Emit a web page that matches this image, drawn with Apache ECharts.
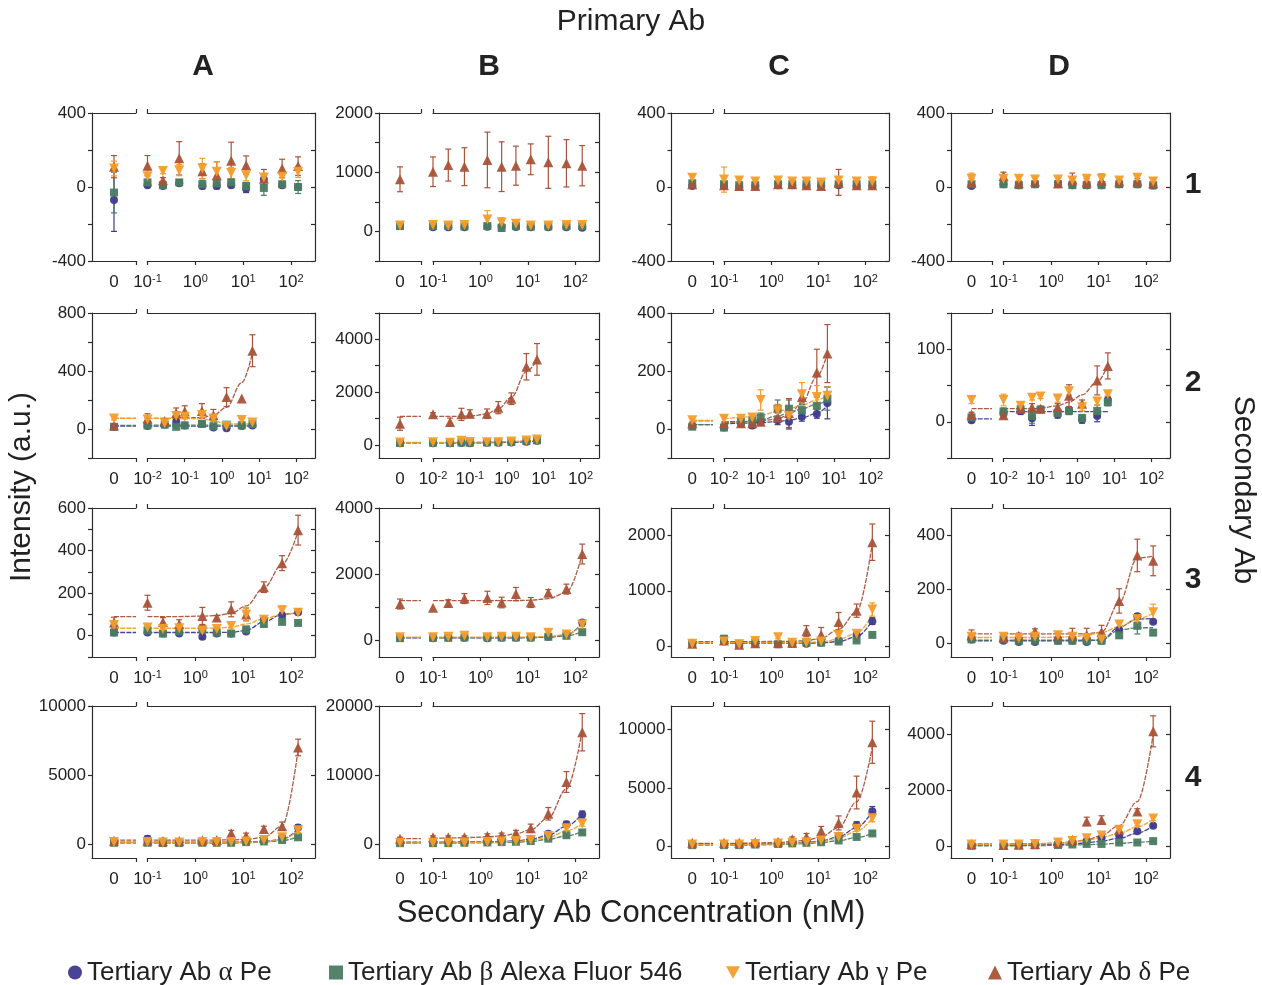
<!DOCTYPE html>
<html><head><meta charset="utf-8">
<script src="https://cdn.jsdelivr.net/npm/echarts@6/dist/echarts.min.js"></script>
<style>html,body{margin:0;padding:0;background:#fff}#c{width:1262px;height:985px}</style>
</head><body><div id="c"></div>
<script>
// ---------------- DATA ----------------
const seriesNames = ['Tertiary Ab α Pe', 'Tertiary Ab β Alexa Fluor 546', 'Tertiary Ab γ Pe', 'Tertiary Ab δ Pe'];
const colTitles = ['A', 'B', 'C', 'D'];
const rowTitles = ['1', '2', '3', '4'];
// secondary Ab concentrations (nM); first entry is the "0" point
const concHigh = [0, 0.1, 0.21, 0.46, 1.4, 2.8, 5.6, 11.5, 27, 65, 140];   // rows 1, 3, 4
const concLow  = [0, 0.01, 0.029, 0.059, 0.1, 0.29, 0.59, 1.33, 3.4, 6.6];  // row 2

// ---- Row 1 ----
const A1_val = [[-70,10,5,20,5,5,10,-10,40,10,0],[-30,25,10,25,15,20,25,5,-5,15,0],[100,58,87,91,100,82,76,64,51,55,82],[110,115,36,155,85,64,142,118,45,100,113]];
const A1_err = [[170,10,10,10,15,15,10,20,15,10,15],[110,15,10,15,20,20,20,20,40,15,35],[40,35,15,30,55,55,30,30,20,30,30],[60,55,15,90,40,72,100,50,50,50,50]];
const A1_fit = [null,null,null,null];
const B1_val = [[90,70,70,70,80,80,75,70,70,70,60],[90,90,90,85,90,60,90,80,85,90,90],[100,110,100,110,200,150,130,100,100,110,110],[880,1008,1120,1093,1207,1093,1110,1218,1167,1150,1110]];
const B1_err = [[20,20,20,20,30,30,20,20,20,20,20],[20,20,20,20,40,60,20,20,20,20,20],[20,20,20,20,150,80,40,20,20,20,20],[210,250,270,320,470,420,330,260,440,400,340]];
const B1_fit = [null,null,null,null];
const C1_val = [[5,5,0,5,10,10,5,5,10,5,5],[20,15,10,10,15,15,15,15,15,15,15],[50,40,35,30,35,30,30,25,35,30,30],[15,10,5,5,15,15,10,5,25,10,10]];
const C1_err = [[8,8,8,8,8,8,8,8,8,8,8],[10,10,10,10,10,10,10,10,10,10,10],[15,68,15,10,10,10,10,10,20,15,25],[10,10,10,10,10,10,10,10,70,10,15]];
const C1_fit = [null,null,null,null];
const D1_val = [[5,15,10,15,15,10,10,10,15,15,10],[15,15,10,15,15,10,10,10,15,15,10],[45,45,45,40,40,35,45,45,35,50,30],[25,60,20,30,20,40,25,35,30,30,20]];
const D1_err = [[10,10,10,10,10,10,10,10,10,10,10],[10,10,10,10,10,10,10,10,10,10,10],[30,15,10,15,10,15,10,15,10,15,15],[20,20,15,25,15,35,20,35,10,15,30]];
const D1_fit = [null,null,null,null];

// ---- Row 2 ----
const A2_val = [[15,20,30,50,25,35,10,5,20,25],[15,25,30,15,25,35,20,30,25,35],[73,66,39,90,85,96,73,20,62,45],[25,70,55,110,120,125,95,220,210,540]];
const A2_err = [[10,10,10,15,10,10,10,10,10,10],[10,10,10,10,10,10,10,10,10,10],[10,10,10,15,15,15,15,10,10,10],[10,35,15,35,40,50,40,65,0,110]];
const A2_fit = [[20,20,20,20,20,20,20,20,20,20],[25,27,27,27,27,27,27,27,27,27],[73,73,73,73,72,70,55,35,35,35],[73,73,73,74,75,80,95,150,320,525]];
const B2_val = [[60,60,60,70,60,80,80,90,120,150],[70,80,70,90,80,90,100,110,140,170],[90,100,80,150,110,100,100,130,160,200],[800,1155,863,1155,1180,1180,1410,1750,2960,3240]];
const B2_err = [[30,30,30,30,30,30,30,30,30,30],[30,30,30,30,30,30,30,30,30,30],[40,30,30,60,40,30,30,40,40,50],[250,60,150,230,150,180,230,220,500,600]];
const B2_fit = [[70,70,70,72,74,80,85,95,115,140],[80,80,80,82,84,90,95,105,130,160],[95,95,95,97,100,105,110,125,155,190],[1080,1080,1080,1082,1090,1170,1370,1800,2780,3220]];
const C2_val = [[10,5,18,12,25,30,25,42,52,90],[8,5,25,30,40,70,70,65,80,105],[30,35,35,40,100,65,45,120,110,115],[20,20,20,20,25,40,55,110,195,260]];
const C2_err = [[5,5,10,10,10,15,25,15,15,55],[5,5,10,10,15,30,30,20,30,40],[5,10,10,10,35,20,25,40,40,30],[5,5,5,5,10,15,50,20,80,100]];
const C2_fit = [[15,18,20,21,22,26,30,38,55,80],[15,22,25,28,32,45,55,70,85,100],[30,35,40,44,48,60,70,82,100,115],[28,25,25,26,28,35,50,90,180,260]];
const D2_val = [[2,12,15,5,17,10,15,3,8,30],[6,14,17,8,17,12,15,5,15,27],[30,30,22,33,35,32,42,20,28,38],[10,9,18,20,18,20,36,25,57,77]];
const D2_err = [[3,5,5,10,3,5,5,5,8,5],[3,5,5,10,3,5,5,5,8,5],[5,8,5,3,3,5,5,5,5,3],[3,3,5,5,3,5,15,5,20,18]];
const D2_fit = [[4,14,14,14,14,14,14,14,14,14],null,null,[18,18,18,18,19,22,27,37,55,78]];

// ---- Row 3 ----
const A3_val = [[15,15,10,10,-5,10,10,20,75,95,110],[15,25,10,20,30,15,10,30,55,65,60],[50,39,31,35,23,31,46,100,75,120,108],[62,155,65,55,93,85,124,100,228,341,496]];
const A3_err = [[5,5,5,5,10,5,5,5,10,15,10],[5,10,5,5,20,5,10,10,10,10,5],[10,10,10,10,10,10,10,30,10,20,10],[25,35,20,20,40,10,35,30,25,35,70]];
const A3_fit = [[15,15,15,15,15,15,16,25,65,100,108],null,[35,35,35,35,35,36,40,55,80,100,108],[90,90,90,90,92,95,105,140,225,335,490]];
const B3_val = [[80,70,80,80,70,80,80,80,110,170,540],[70,80,80,90,90,90,90,90,110,140,250],[100,100,110,140,100,110,110,100,230,180,480],[1100,990,1130,1265,1285,1145,1400,1145,1437,1550,2610]];
const B3_err = [[20,20,20,20,20,20,20,20,20,20,40],[20,20,20,20,20,20,20,20,20,20,20],[30,20,20,40,20,20,20,20,100,40,60],[150,0,100,150,200,160,200,150,100,150,300]];
const B3_fit = [[80,80,80,80,80,80,80,85,100,160,530],[85,85,85,85,85,85,85,88,100,140,260],[100,100,100,100,100,100,100,105,120,180,470],[1200,1200,1200,1200,1200,1200,1205,1215,1260,1450,2600]];
const C3_val = [[50,80,20,40,30,40,40,60,90,200,450],[40,130,40,60,30,40,60,60,80,100,200],[40,80,30,90,160,60,60,80,200,220,660],[40,100,20,50,60,60,268,205,436,640,1880]];
const C3_err = [[10,20,10,10,10,10,10,10,20,40,60],[10,60,10,10,10,10,10,10,20,20,20],[10,30,10,20,30,10,10,20,40,40,120],[10,30,10,20,20,20,100,130,170,120,330]];
const C3_fit = [[50,50,50,50,50,50,52,55,80,170,460],null,[60,60,60,60,60,62,65,75,120,230,570],[80,80,80,80,82,85,95,140,300,620,1860]];
const D3_val = [[15,10,5,5,10,10,5,10,50,100,80],[15,15,10,10,10,10,10,10,30,65,40],[25,25,20,25,30,25,20,15,70,90,115],[30,23,28,44,29,31,31,42,157,325,305]];
const D3_err = [[5,5,5,5,5,5,5,5,5,10,5],[5,5,5,5,5,5,5,5,10,30,10],[10,8,5,5,5,10,10,10,10,10,30],[20,10,10,10,10,25,25,25,45,60,55]];
const D3_fit = [[10,10,10,10,10,10,10,12,60,90,92],[12,12,12,12,12,12,12,13,50,58,58],[22,22,22,22,23,25,30,40,62,90,112],[35,35,35,35,35,35,36,42,150,315,322]];

// ---- Row 4 ----
const A4_val = [[150,400,200,150,150,150,150,200,250,500,1200],[100,100,80,80,100,100,100,150,200,300,500],[150,150,120,120,150,150,150,200,300,500,1000],[250,250,220,230,280,300,800,600,1100,1300,7000]];
const A4_err = [[100,200,100,100,100,100,100,100,100,150,200],[50,50,50,50,50,50,50,50,50,50,80],[50,50,50,50,50,50,50,50,50,80,150],[100,150,100,100,100,100,200,200,200,300,600]];
const A4_fit = [[150,150,150,150,150,150,150,160,200,350,1100],[80,80,80,80,80,80,85,100,150,250,550],[120,120,120,120,120,120,125,130,170,330,1000],[300,300,300,300,300,300,310,350,500,1300,6800]];
const B4_val = [[300,300,300,350,350,500,600,800,1500,2900,4300],[150,150,150,200,250,300,350,450,800,1300,1700],[200,200,200,250,300,400,450,600,1200,2300,3000],[800,1000,1000,1000,1200,1300,1600,2300,4400,9000,16200]];
const B4_err = [[150,150,150,150,150,200,200,200,300,400,500],[100,100,100,100,100,100,100,100,150,200,250],[100,100,100,100,100,100,100,150,200,300,400],[200,200,200,200,300,300,400,600,900,1500,2700]];
const B4_fit = [[300,300,300,320,340,400,500,700,1300,2600,4400],[150,150,150,170,200,250,300,400,700,1200,1800],[200,200,200,230,270,330,420,560,1000,1900,3000],[800,850,900,950,1050,1200,1500,2100,3800,8000,16500]];
const C4_val = [[200,200,200,200,250,300,350,500,900,1800,3000],[100,100,100,150,200,250,300,350,500,800,1100],[150,150,150,200,250,300,350,500,800,1500,2400],[300,300,300,350,400,600,800,1300,2000,4600,8900]];
const C4_err = [[100,100,100,100,100,100,100,150,200,300,400],[80,80,80,80,80,80,80,80,100,120,150],[80,80,80,80,80,80,80,100,150,200,300],[100,100,100,100,150,200,300,400,600,1400,1800]];
const C4_fit = [[200,200,200,210,230,270,330,450,800,1600,3000],[100,100,100,120,150,190,240,320,480,750,1100],[150,150,150,170,200,240,300,420,700,1300,2400],[250,250,260,280,330,400,520,800,1600,3800,8500]];
const D4_val = [[50,50,60,80,100,150,200,300,400,550,750],[30,30,40,50,60,80,100,100,150,150,200],[80,80,80,100,150,200,300,400,600,800,1000],[100,60,80,100,150,250,900,950,600,1250,4100]];
const D4_err = [[30,30,30,30,30,40,40,40,50,50,60],[20,20,20,20,20,20,20,20,20,20,30],[30,30,30,30,30,40,40,50,50,60,80],[50,50,50,50,80,100,150,150,150,100,550]];
const D4_fit = [[50,50,55,65,80,100,140,200,300,480,750],[30,30,35,40,50,60,75,95,120,160,200],[80,80,85,95,120,160,230,330,480,700,1000],[100,100,100,110,130,170,250,400,750,1600,4000]];

// y-axis ranges per panel (row-major A1,B1,C1,D1,A2,...)
const yMins = [-400,-500,-400,-400, -200,-500,-100,-50, -100,-500,-200,-50, -1000,-2000,-1000,-400];
const yMaxs = [400,2000,400,400, 800,5000,400,150, 600,4000,2500,500, 10000,20000,12000,5000];
const yTickSteps = [200,500,200,200, 200,1000,100,50, 100,1000,1000,200, 5000,10000,5000,2000];
const yLabelSteps = [400,1000,400,400, 400,2000,200,100, 200,2000,1000,200, 5000,10000,5000,2000];

// ---------------- LAYOUT / STYLE ----------------
const panelData = [
  [A1_val,A1_err,A1_fit],[B1_val,B1_err,B1_fit],[C1_val,C1_err,C1_fit],[D1_val,D1_err,D1_fit],
  [A2_val,A2_err,A2_fit],[B2_val,B2_err,B2_fit],[C2_val,C2_err,C2_fit],[D2_val,D2_err,D2_fit],
  [A3_val,A3_err,A3_fit],[B3_val,B3_err,B3_fit],[C3_val,C3_err,C3_fit],[D3_val,D3_err,D3_fit],
  [A4_val,A4_err,A4_fit],[B4_val,B4_err,B4_fit],[C4_val,C4_err,C4_fit],[D4_val,D4_err,D4_fit]
];
const colL = [92, 379, 671.5, 951];
const colB1 = [136, 421, 713, 992];
const colB2 = [147.5, 433, 724, 1003.5];
const colR = [315, 599, 889, 1170];
const rowT = [113, 313, 508, 706];
const rowB = [261, 458, 657, 858];
const colors = ['#3f3b8e', '#4b7c62', '#f49d2c', '#a9533a'];
const symbols = ['circle', 'rect', 'triangle', 'triangle'];
const symRot = [0, 0, 180, 0];
const symSize = [8, 8, 10, 10];
const drawOrder = [0, 1, 3, 2];
const FONT = 'Liberation Sans, Arial, sans-serif';
const AX = '#2b2b2b';
const TICKFS = 17;

function stepValues(min, max, step) {
  const out = [];
  for (let v = Math.ceil(min / step) * step; v <= max + 1e-9; v += step) out.push(v);
  return out;
}
function errRender(color) {
  return function (params, api) {
    const x = api.value(0), y = api.value(1), e = api.value(2);
    if (!e) return;
    const hi = api.coord([x, y + e]), lo = api.coord([x, y - e]);
    const w = 3, st = { stroke: color, lineWidth: 1.2 };
    return { type: 'group', children: [
      { type: 'line', shape: { x1: hi[0], y1: hi[1], x2: lo[0], y2: lo[1] }, style: st },
      { type: 'line', shape: { x1: hi[0] - w, y1: hi[1], x2: hi[0] + w, y2: hi[1] }, style: st },
      { type: 'line', shape: { x1: lo[0] - w, y1: lo[1], x2: lo[0] + w, y2: lo[1] }, style: st }
    ]};
  };
}
function supLabel(v) {
  const e = Math.round(Math.log10(v));
  return '{b|10}{s|' + (e < 0 ? '-' + (-e) : String(e)) + '}';
}

const grids = [], xAxes = [], yAxes = [], series = [];
const axisLine = { show: true, onZero: false, lineStyle: { color: AX, width: 1.2 } };
const tickStyle = { color: AX, width: 1.2 };

panelData.forEach((pd, pi) => {
  const [val, err, fit] = pd;
  const r = Math.floor(pi / 4), c = pi % 4;
  const conc = r === 1 ? concLow : concHigh;
  const logMin = r === 1 ? 0.01 : 0.1;
  const logMax = 316;
  const h = rowB[r] - rowT[r];
  const gL = grids.length, gR = gL + 1;
  grids.push({ left: colL[c], top: rowT[r], width: colB1[c] - colL[c], height: h });
  grids.push({ left: colB2[c], top: rowT[r], width: colR[c] - colB2[c], height: h });

  const xL = xAxes.length;
  xAxes.push({ gridIndex: gL, type: 'value', position: 'bottom', min: -1, max: 1, axisLine, splitLine: { show: false },
    axisTick: { show: true, customValues: [1], length: 4, lineStyle: tickStyle },
    axisLabel: { customValues: [0], formatter: () => '0', fontSize: TICKFS, color: '#222', fontFamily: FONT, margin: 13 } });
  xAxes.push({ gridIndex: gL, type: 'value', position: 'top', min: -1, max: 1, axisLine, splitLine: { show: false },
    axisTick: { show: true, customValues: [1], length: 4, lineStyle: tickStyle }, axisLabel: { show: false } });
  const xR = xAxes.length;
  const decades = [];
  for (let e = Math.round(Math.log10(logMin)); e <= 2; e++) decades.push(Math.pow(10, e));
  xAxes.push({ gridIndex: gR, type: 'log', position: 'bottom', min: logMin, max: logMax, axisLine, splitLine: { show: false },
    minorTick: { show: false },
    axisTick: { show: true, customValues: decades, length: 4, lineStyle: tickStyle },
    axisLabel: { customValues: decades, formatter: supLabel, color: '#222', margin: 12,
      rich: { b: { fontSize: TICKFS, fontFamily: FONT, color: '#222', verticalAlign: 'bottom' },
              s: { fontSize: 11, fontFamily: FONT, color: '#222', verticalAlign: 'top', padding: [0, 0, 7, 0] } } } });
  xAxes.push({ gridIndex: gR, type: 'log', position: 'top', min: logMin, max: logMax, axisLine, splitLine: { show: false },
    minorTick: { show: false },
    axisTick: { show: true, customValues: [logMin], length: 4, lineStyle: tickStyle }, axisLabel: { show: false } });

  const ymin = yMins[pi], ymax = yMaxs[pi];
  const tv = stepValues(ymin, ymax, yTickSteps[pi]);
  const lv = stepValues(ymin, ymax, yLabelSteps[pi]);
  const yL = yAxes.length;
  yAxes.push({ gridIndex: gL, type: 'value', position: 'left', min: ymin, max: ymax, axisLine, splitLine: { show: false },
    axisTick: { show: true, customValues: tv, length: 4, lineStyle: tickStyle },
    axisLabel: { customValues: lv, formatter: v => String(v), fontSize: TICKFS, color: '#222', fontFamily: FONT, margin: 6 } });
  const yR = yAxes.length;
  yAxes.push({ gridIndex: gR, type: 'value', position: 'right', min: ymin, max: ymax, axisLine, splitLine: { show: false },
    axisTick: { show: true, inside: true, customValues: tv, length: 4, lineStyle: tickStyle }, axisLabel: { show: false } });

  // fitted curves
  drawOrder.forEach(s => {
    const f = fit[s];
    if (!f) return;
    const ls = { color: colors[s], width: 1.3, type: [5, 1.2], opacity: 0.95 };
    series.push({ type: 'line', name: 'fit' + s, xAxisIndex: xL, yAxisIndex: yL, data: [[0, f[0]], [1, f[0]]],
      symbol: 'none', lineStyle: ls, silent: true, z: 1, animation: false });
    series.push({ type: 'line', name: 'fit' + s, xAxisIndex: xR, yAxisIndex: yR,
      data: conc.slice(1).map((x, i) => [x, f[i + 1]]), smooth: 0.35, smoothMonotone: 'x',
      symbol: 'none', lineStyle: ls, silent: true, z: 1, animation: false });
  });
  // error bars
  drawOrder.forEach(s => {
    series.push({ type: 'custom', name: 'err' + s, xAxisIndex: xL, yAxisIndex: yL, renderItem: errRender(colors[s]),
      encode: { x: 0, y: 1 }, data: [[0, val[s][0], err[s][0]]], z: 2, silent: true, animation: false });
    series.push({ type: 'custom', name: 'err' + s, xAxisIndex: xR, yAxisIndex: yR, renderItem: errRender(colors[s]),
      encode: { x: 0, y: 1 }, data: conc.slice(1).map((x, i) => [x, val[s][i + 1], err[s][i + 1]]), z: 2, silent: true, animation: false });
  });
  // points
  drawOrder.forEach(s => {
    const common = { type: 'scatter', name: seriesNames[s], symbol: symbols[s], symbolRotate: symRot[s], symbolSize: symSize[s],
      itemStyle: { color: colors[s], opacity: 0.95 }, z: 3, animation: false, silent: true };
    series.push(Object.assign({}, common, { xAxisIndex: xL, yAxisIndex: yL, data: [[0, val[s][0]]] }));
    series.push(Object.assign({}, common, { xAxisIndex: xR, yAxisIndex: yR, data: conc.slice(1).map((x, i) => [x, val[s][i + 1]]) }));
  });
});

const legendIcons = ['circle', 'rect', 'path://M0,0L10,0L5,9Z', 'triangle'];
const legendLeft = [63, 324, 721, 983];
const legends = seriesNames.map((n, i) => ({
  data: [{ name: n, icon: legendIcons[i] }], left: legendLeft[i], top: 954, itemWidth: 14, itemHeight: 14, itemGap: 4,
  selectedMode: false,
  formatter: name => name.replace(/([αβγδ])/, '{g|$1}'),
  textStyle: { fontSize: 26, color: '#222', fontFamily: FONT, padding: [0, 0, 0, 0],
    rich: { g: { fontSize: 27, fontFamily: 'Liberation Serif, DejaVu Serif, serif', color: '#222' } } }
}));

function txt(text, x, y, size, opts) {
  return Object.assign({ type: 'text', x, y, silent: true,
    style: Object.assign({ text, fill: '#222', fontSize: size, fontFamily: FONT,
      align: 'center', verticalAlign: 'middle', textAlign: 'center', textVerticalAlign: 'middle' }, (opts && opts.style) || {}) },
    (opts && opts.el) || {});
}
const colTitleX = [203, 489, 779, 1059];
const rowTitleY = [185, 383, 580, 778];
const graphics = [
  txt('Primary Ab', 631, 22, 30),
  txt('Secondary Ab Concentration (nM)', 631, 913, 31),
  txt('Intensity (a.u.)', 22, 487, 30, { el: { rotation: Math.PI / 2 } }),
  txt('Secondary Ab', 1243, 490, 30, { el: { rotation: -Math.PI / 2 } })
];
colTitles.forEach((t, i) => graphics.push(txt(t, colTitleX[i], 67, 30, { style: { fontWeight: 'bold' } })));
rowTitles.forEach((t, i) => graphics.push(txt(t, 1193, rowTitleY[i], 30, { style: { fontWeight: 'bold' } })));

const chart = echarts.init(document.getElementById('c'), null, { renderer: 'canvas' });
chart.setOption({
  animation: false,
  backgroundColor: '#fff',
  textStyle: { fontFamily: FONT },
  grid: grids, xAxis: xAxes, yAxis: yAxes, series,
  legend: legends,
  graphic: graphics
});
</script></body></html>
